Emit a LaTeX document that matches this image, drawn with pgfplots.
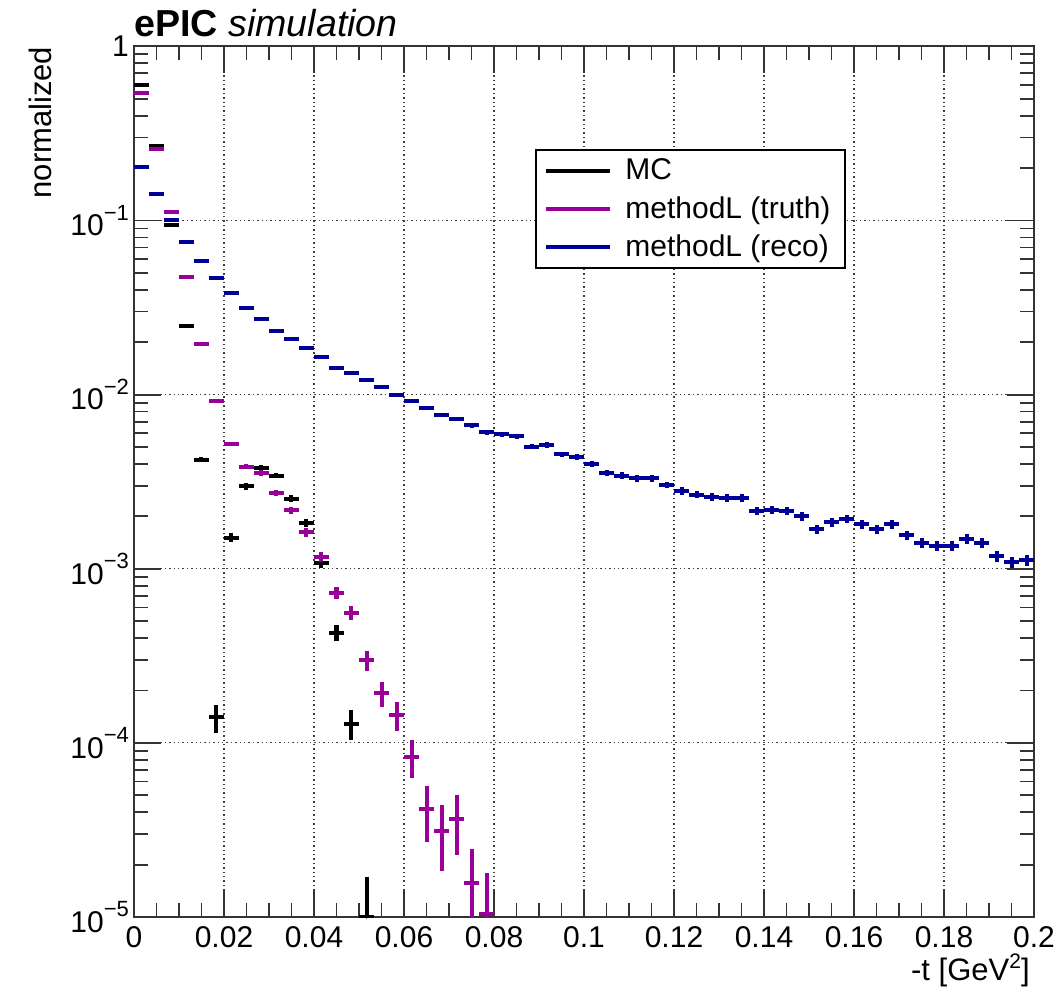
\documentclass[border=0pt]{standalone}
\usepackage{fontspec}
\setmainfont{Liberation Sans}
\usepackage{pgfplots}
\usepackage{pgfplotstable}
\pgfplotsset{compat=1.18}
\definecolor{rootmag}{RGB}{153,0,153}
\definecolor{rootblue}{RGB}{0,0,153}
\newcommand{\rsup}[1]{\raisebox{7.7pt}{\fontsize{11}{11}\selectfont #1}}
\newcommand{\tl}[1]{10\rsup{−#1}}

\pgfplotstableread{
x y ey
0.0016667 0.598 1.69e-3
0.005 0.268 1.13e-3
0.0083333 0.0941 6.7e-4
0.0116667 0.0249 3.5e-4
0.015 0.00422 1.42e-4
0.0183333 1.40e-4 2.6e-5
0.0216667 0.00151 8.5e-5
0.025 0.00297 1.19e-4
0.0283333 0.00379 1.35e-4
0.0316667 0.00343 1.28e-4
0.035 0.00253 1.1e-4
0.0383333 0.00184 9.4e-5
0.0416667 0.00108 7.2e-5
0.045 4.29e-4 4.5e-5
0.0483333 1.29e-4 2.5e-5
0.0516667 1.0e-5 7e-6
}\mcdata

\pgfplotstableread{
x y ey
0.0016667 0.538 1.67e-3
0.005 0.259 1.16e-3
0.0083333 0.112 7.6e-4
0.0116667 0.0475 5.0e-4
0.015 0.0195 3.2e-4
0.0183333 0.00924 2.2e-4
0.0216667 0.00521 1.65e-4
0.025 0.00386 1.42e-4
0.0283333 0.00356 1.36e-4
0.0316667 0.00273 1.19e-4
0.035 0.00217 1.06e-4
0.0383333 0.00162 9.2e-5
0.0416667 0.00117 7.8e-5
0.045 7.29e-4 6.2e-5
0.0483333 5.60e-4 5.4e-5
0.0516667 2.98e-4 3.9e-5
0.055 1.93e-4 3.2e-5
0.0583333 1.45e-4 2.75e-5
0.0616667 8.33e-5 2.08e-5
0.065 4.16e-5 1.47e-5
0.0683333 3.12e-5 1.27e-5
0.0716667 3.64e-5 1.38e-5
0.075 1.56e-5 9.0e-6
0.0783333 1.04e-5 7.4e-6
}\truthdata

\pgfplotstableread{
x y ey
0.0016667 0.202 1.10e-3
0.005 0.142 9.2e-4
0.0083333 0.101 7.8e-4
0.0116667 0.0752 6.7e-4
0.015 0.0587 5.9e-4
0.0183333 0.0467 5.3e-4
0.0216667 0.0385 4.8e-4
0.025 0.0313 4.3e-4
0.0283333 0.0272 4.0e-4
0.0316667 0.0233 3.7e-4
0.035 0.0209 3.5e-4
0.0383333 0.0185 3.3e-4
0.0416667 0.0164 3.1e-4
0.045 0.0143 2.9e-4
0.0483333 0.0133 2.8e-4
0.0516667 0.0122 2.7e-4
0.055 0.0110 2.6e-4
0.0583333 0.00991 2.4e-4
0.0616667 0.00924 2.35e-4
0.065 0.00834 2.2e-4
0.0683333 0.00764 2.1e-4
0.0716667 0.00728 2.1e-4
0.075 0.00667 2.0e-4
0.0783333 0.00608 1.9e-4
0.0816667 0.00592 1.9e-4
0.085 0.00577 1.86e-4
0.0883333 0.00503 1.74e-4
0.0916667 0.00514 1.76e-4
0.095 0.00454 1.65e-4
0.0983333 0.00437 1.62e-4
0.1016667 0.00402 1.55e-4
0.105 0.00357 1.46e-4
0.1083333 0.00343 1.43e-4
0.1116667 0.00331 1.41e-4
0.115 0.00331 1.41e-4
0.1183333 0.00303 1.35e-4
0.1216667 0.00280 1.30e-4
0.125 0.00266 1.26e-4
0.1283333 0.00259 1.25e-4
0.1316667 0.00255 1.24e-4
0.135 0.00255 1.24e-4
0.1383333 0.00214 1.13e-4
0.1416667 0.00218 1.14e-4
0.145 0.00214 1.13e-4
0.1483333 0.00200 1.10e-4
0.1516667 0.00169 1.01e-4
0.155 0.00185 1.05e-4
0.1583333 0.00193 1.08e-4
0.1616667 0.00180 1.04e-4
0.165 0.00169 1.01e-4
0.1683333 0.00180 1.04e-4
0.1716667 0.00156 9.7e-5
0.175 0.00141 9.2e-5
0.1783333 0.00136 9.0e-5
0.1816667 0.00136 9.0e-5
0.185 0.00149 9.5e-5
0.1883333 0.00141 9.2e-5
0.1916667 0.00118 8.4e-5
0.195 0.00109 8.1e-5
0.1983333 0.00112 8.2e-5
}\recodata

\pgfplotsset{
  histpts/.style={only marks, mark=*, mark size=0.5pt, forget plot,
    error bars/.cd, x dir=both, x fixed=0.0016667, y dir=both, y explicit,
    error mark=none, error bar style={line width=2pt, solid}},
}

\begin{document}
\begin{tikzpicture}
\begin{axis}[
  name=ax,
  scale only axis, width=450pt, height=435.3pt,
  xmin=0, xmax=0.2, ymin=1e-5, ymax=1, ymode=log,
  xtick={0,0.02,0.04,0.06,0.08,0.1,0.12,0.14,0.16,0.18,0.2},
  xticklabels={0,0.02,0.04,0.06,0.08,0.1,0.12,0.14,0.16,0.18,0.2},
  minor x tick num=3,
  ytick={1e-5,1e-4,1e-3,1e-2,1e-1,1},
  yticklabels={\tl{5},\tl{4},\tl{3},\tl{2},\tl{1},1},
  tick align=inside,
  major tick length=13.5pt, minor tick length=7pt,
  every tick/.style={black!80, line width=0.9pt},
  axis line style={black!80, line width=1pt},
  grid=major,
  major grid style={black!75, line width=0.6pt, dash pattern=on 0.7pt off 1.5pt},
  ticklabel style={font=\fontsize{15}{18}\selectfont},
  xticklabel style={yshift=-1pt},
  yticklabel style={xshift=1pt},
  title={\textbf{ePIC} \textit{simulation}},
  every axis title/.style={at={(rel axis cs:0,1)}, anchor=base west, yshift=5pt, inner sep=0pt, font=\fontsize{18.8}{22}\selectfont},
  xlabel={-t [GeV\raisebox{6pt}{\fontsize{10.5}{10.5}\selectfont 2}]},
  ylabel={normalized},
  every axis x label/.style={at={(rel axis cs:0.9956,0)}, anchor=base east, yshift=-31.5pt, inner sep=0pt, font=\fontsize{15.5}{18}\selectfont},
  every axis y label/.style={at={(rel axis cs:-0.0914,1)}, rotate=90, anchor=south east, inner sep=0pt, font=\fontsize{15.5}{18}\selectfont},
  legend image code/.code={\draw[#1] (0pt,0pt) -- (32pt,0pt);},
  legend cell align=left,
  legend style={at={(rel axis cs:0.446,0.882)}, anchor=north west, draw=black, line width=1pt,
    font=\fontsize{15}{18}\selectfont, inner xsep=4pt, inner ysep=1pt, row sep=0pt, column sep=3pt,
    nodes={inner xsep=3.5pt, inner ysep=3.4pt}},
]
\addplot[black, histpts] table[x=x, y=y, y error=ey] {\mcdata};
\addplot[rootmag, histpts] table[x=x, y=y, y error=ey] {\truthdata};
\addplot[rootblue, histpts] table[x=x, y=y, y error=ey] {\recodata};
\addlegendimage{black, line width=2pt}
\addlegendentry{MC}
\addlegendimage{rootmag, line width=2pt}
\addlegendentry{methodL (truth)}
\addlegendimage{rootblue, line width=2pt}
\addlegendentry{methodL (reco)}
\end{axis}
\pgfresetboundingbox
\path[use as bounding box] ([shift={(-67pt,-38pt)}]ax.south west) rectangle ([shift={(13.5pt,23.2pt)}]ax.north east);
\end{tikzpicture}
\end{document}
